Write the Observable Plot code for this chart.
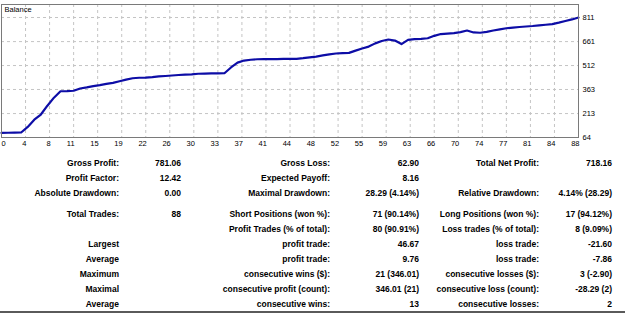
<!DOCTYPE html>
<html>
<head>
<meta charset="utf-8">
<script src="https://cdn.jsdelivr.net/npm/d3@7"></script>
<script src="https://cdn.jsdelivr.net/npm/@observablehq/plot@0.6"></script>
<style>
  body { margin: 0; background: #fff; font-family: "Liberation Sans", Arial, sans-serif; }
  #chart svg { display: block; }
  #stats { position: relative; width: 625px; height: 161px; font-weight: bold; font-size: 8.5px; color: #000; }
  #stats .row { position: absolute; left: 0; width: 625px; height: 15px; line-height: 15px; }
  #stats .row span { position: absolute; white-space: nowrap; text-align: right; }
  #stats .rule { position: absolute; left: 0; top: 159px; width: 625px; height: 2px; background: #5a5a5a; }
</style>
</head>
<body>
<div id="chart"></div>
<div id="stats"></div>
<script>
// Account balance after each closed trade (trade 0 = starting deposit)
const balance = [
  92.84, 93.5, 94.2, 95, 130, 175, 207, 262, 312, 352,
  353, 355, 369, 376, 384, 390, 398, 404, 414, 424,
  433, 436, 437, 440, 444, 447, 450, 453, 455, 457,
  461, 462, 463, 463.5, 464, 500, 530, 543, 548, 551,
  551.5, 552, 552.5, 553, 553.5, 554, 558, 563, 568, 575,
  582, 587, 589, 591, 605, 618, 630, 650, 665, 674,
  667.3, 645.7, 672, 677, 678, 682, 697, 708, 711, 714,
  720, 730, 718, 716, 722, 730, 737, 744, 748, 752,
  755, 758, 762, 766, 770, 779, 789, 799, 811
];

// Axis labels
const yTicks = [64, 213, 363, 512, 661, 811];
const xTickLabels = [0, 4, 8, 11, 15, 19, 22, 26, 30, 33, 37, 41, 44, 48, 52, 55, 59, 63, 66, 70, 74, 77, 81, 84, 88];

// Report columns: [label, value] pairs, three groups per row
const statRows = [
  [["Gross Profit:", "781.06"], ["Gross Loss:", "62.90"], ["Total Net Profit:", "718.16"]],
  [["Profit Factor:", "12.42"], ["Expected Payoff:", "8.16"], ["", ""]],
  [["Absolute Drawdown:", "0.00"], ["Maximal Drawdown:", "28.29 (4.14%)"], ["Relative Drawdown:", "4.14% (28.29)"]],
  [["Total Trades:", "88"], ["Short Positions (won %):", "71 (90.14%)"], ["Long Positions (won %):", "17 (94.12%)"]],
  [["", ""], ["Profit Trades (% of total):", "80 (90.91%)"], ["Loss trades (% of total):", "8 (9.09%)"]],
  [["Largest", ""], ["profit trade:", "46.67"], ["loss trade:", "-21.60"]],
  [["Average", ""], ["profit trade:", "9.76"], ["loss trade:", "-7.86"]],
  [["Maximum", ""], ["consecutive wins ($):", "21 (346.01)"], ["consecutive losses ($):", "3 (-2.90)"]],
  [["Maximal", ""], ["consecutive profit (count):", "346.01 (21)"], ["consecutive loss (count):", "-28.29 (2)"]],
  [["Average", ""], ["consecutive wins:", "13"], ["consecutive losses:", "2"]]
];

const trades = balance.map((b, i) => ({trade: i, balance: b}));
const lastTrade = balance.length - 1;
// grid columns are spread evenly across the trade range
const xTicks = xTickLabels.map((_, i) => i * lastTrade / (xTickLabels.length - 1));
const xLabel = d => String(xTickLabels[Math.round(d * (xTickLabels.length - 1) / lastTrade)]);

const grid = {stroke: "#c4c4c4", strokeOpacity: 1, strokeDasharray: "3,3"};

const chart = Plot.plot({
  width: 625,
  height: 152,
  marginTop: 4,
  marginBottom: 15,
  marginLeft: 1,
  marginRight: 47,
  style: {fontFamily: "'Liberation Sans', Arial, sans-serif", fontSize: "7.5px", color: "#000", background: "#fff"},
  x: {domain: [0, lastTrade], label: null},
  y: {domain: [64, 892], label: null},
  marks: [
    Plot.gridX(xTicks, grid),
    Plot.gridY(yTicks, grid),
    Plot.line(trades, {x: "trade", y: "balance", stroke: "#0d0da6", strokeWidth: 2.2}),
    Plot.frame({stroke: "#7a7a7a"}),
    Plot.axisY(yTicks, {anchor: "right", label: null, tickSize: 0, tickPadding: 4, tickFormat: d => String(d)}),
    Plot.axisX(xTicks.slice(0, 1), {label: null, tickSize: 0, tickPadding: 3, textAnchor: "start", tickFormat: xLabel}),
    Plot.axisX(xTicks.slice(1), {label: null, tickSize: 0, tickPadding: 3, textAnchor: "end", dx: 1, tickFormat: xLabel}),
    Plot.text(["Balance"], {frameAnchor: "top-left", dx: 3, dy: 2, fill: "#000"})
  ]
});
document.getElementById("chart").append(chart);

// Statistics block under the chart
const stats = document.getElementById("stats");
const columnRight = [506, 444, 295, 206, 86, 13];
statRows.forEach((row, r) => {
  const div = document.createElement("div");
  div.className = "row";
  div.style.top = (4 + r * 15 + (r >= 3 ? 6 : 0)) + "px";
  row.flat().forEach((text, c) => {
    const span = document.createElement("span");
    span.textContent = text;
    span.style.right = columnRight[c] + "px";
    div.append(span);
  });
  stats.append(div);
});
const rule = document.createElement("div");
rule.className = "rule";
stats.append(rule);
</script>
</body>
</html>
